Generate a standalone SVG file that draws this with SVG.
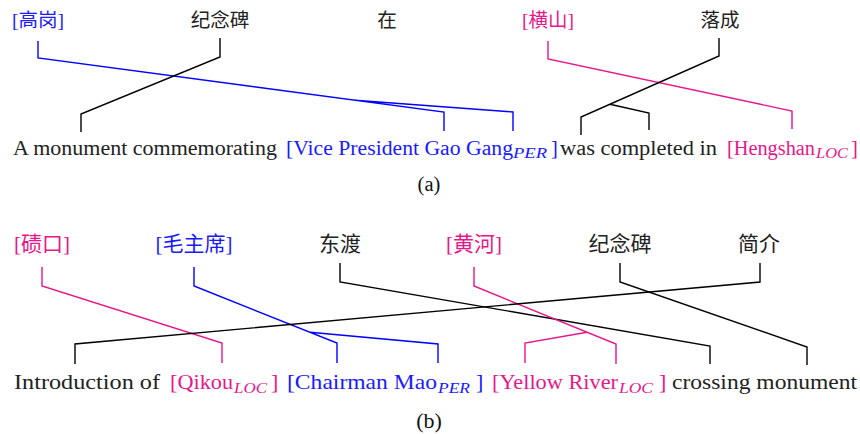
<svg xmlns="http://www.w3.org/2000/svg" width="860" height="434" viewBox="0 0 860 434">
<style>
.zh{text-anchor:middle;fill:#222}
.en{fill:#222}
.sub{font-style:italic}
.blue{fill:#1a1aff}
.pink{fill:#e8168a}
.cap{fill:#111;text-anchor:middle}
.k{fill:none;stroke:#000;stroke-width:1.4}
.b{fill:none;stroke:#0000ff;stroke-width:1.4}
.p{fill:none;stroke:#e8148a;stroke-width:1.4}
</style>
<rect width="860" height="434" fill="#fff"/>
<g id="panel-a-source" font-size="19.5" font-family="Noto Sans CJK SC, sans-serif">
<g id="a-gaogang"><text class="zh blue" x="38" y="27"><tspan font-family="Liberation Serif, serif">[</tspan>高岗<tspan font-family="Liberation Serif, serif">]</tspan></text></g>
<g id="a-jinianbei"><text class="zh" x="220" y="27">纪念碑</text></g>
<g id="a-zai"><text class="zh" x="387" y="27">在</text></g>
<g id="a-hengshan"><text class="zh pink" x="548" y="27"><tspan font-family="Liberation Serif, serif">[</tspan>横山<tspan font-family="Liberation Serif, serif">]</tspan></text></g>
<g id="a-luocheng"><text class="zh" x="720" y="27">落成</text></g>
</g>
<g id="panel-a-target" font-family="Liberation Serif, serif" font-size="20.5">
<text class="en" font-family="Liberation Serif, serif" x="13" y="155" textLength="264" lengthAdjust="spacingAndGlyphs">A monument commemorating</text>
<text class="en blue" font-family="Liberation Serif, serif" x="286" y="155" textLength="227" lengthAdjust="spacingAndGlyphs">[Vice President Gao Gang</text>
<text class="sub blue" font-family="Liberation Serif, serif" x="513" y="158" font-size="14" textLength="34" lengthAdjust="spacingAndGlyphs">PER</text>
<text class="en blue" font-family="Liberation Serif, serif" x="551" y="155">]</text>
<text class="en" font-family="Liberation Serif, serif" x="560" y="155" textLength="157" lengthAdjust="spacingAndGlyphs">was completed in</text>
<text class="en pink" font-family="Liberation Serif, serif" x="727" y="155" textLength="88" lengthAdjust="spacingAndGlyphs">[Hengshan</text>
<text class="sub pink" font-family="Liberation Serif, serif" x="816" y="158" font-size="14" textLength="32" lengthAdjust="spacingAndGlyphs">LOC</text>
<text class="en pink" font-family="Liberation Serif, serif" x="851" y="155">]</text>
<text class="cap" font-family="Liberation Serif, serif" x="429" y="191">(a)</text>
</g>
<g id="panel-b-source" font-size="21" font-family="Noto Sans CJK SC, sans-serif">
<g id="b-qikou"><text class="zh pink" x="42" y="251"><tspan font-family="Liberation Serif, serif">[</tspan>碛口<tspan font-family="Liberation Serif, serif">]</tspan></text></g>
<g id="b-maozhuxi"><text class="zh blue" x="194" y="251"><tspan font-family="Liberation Serif, serif">[</tspan>毛主席<tspan font-family="Liberation Serif, serif">]</tspan></text></g>
<g id="b-dongdu"><text class="zh" x="340" y="251">东渡</text></g>
<g id="b-huanghe"><text class="zh pink" x="474" y="251"><tspan font-family="Liberation Serif, serif">[</tspan>黄河<tspan font-family="Liberation Serif, serif">]</tspan></text></g>
<g id="b-jinianbei"><text class="zh" x="620" y="251">纪念碑</text></g>
<g id="b-jianjie"><text class="zh" x="759" y="251">简介</text></g>
</g>
<g id="panel-b-target" font-family="Liberation Serif, serif" font-size="22">
<text class="en" font-family="Liberation Serif, serif" x="14" y="389" textLength="146" lengthAdjust="spacingAndGlyphs">Introduction of</text>
<text class="en pink" font-family="Liberation Serif, serif" x="170" y="389" textLength="63" lengthAdjust="spacingAndGlyphs">[Qikou</text>
<text class="sub pink" font-family="Liberation Serif, serif" x="234" y="393" font-size="15" textLength="33" lengthAdjust="spacingAndGlyphs">LOC</text>
<text class="en pink" font-family="Liberation Serif, serif" x="271" y="389">]</text>
<text class="en blue" font-family="Liberation Serif, serif" x="287" y="389" textLength="150" lengthAdjust="spacingAndGlyphs">[Chairman Mao</text>
<text class="sub blue" font-family="Liberation Serif, serif" x="438" y="393" font-size="15" textLength="32" lengthAdjust="spacingAndGlyphs">PER</text>
<text class="en blue" font-family="Liberation Serif, serif" x="476" y="389">]</text>
<text class="en pink" font-family="Liberation Serif, serif" x="492" y="389" textLength="126" lengthAdjust="spacingAndGlyphs">[Yellow River</text>
<text class="sub pink" font-family="Liberation Serif, serif" x="619" y="393" font-size="15" textLength="34" lengthAdjust="spacingAndGlyphs">LOC</text>
<text class="en pink" font-family="Liberation Serif, serif" x="659" y="389">]</text>
<text class="en" font-family="Liberation Serif, serif" x="672" y="389" textLength="185" lengthAdjust="spacingAndGlyphs">crossing monument</text>
<text class="cap" font-family="Liberation Serif, serif" x="429" y="428">(b)</text>
</g>
<g id="connectors">
<path class="b" d="M38,41 V58 L444,112 V131 M355,100.2 L513,112 V131"/>
<path class="k" d="M220,38 V57 L81,114 V132"/>
<path class="p" d="M548,41 V59 L792,111 V129"/>
<path class="k" d="M719,38 V56 L581,117 V135 M610,104.2 L649,113 V130"/>
<path class="p" d="M42,267 V286 L222,343 V363"/>
<path class="b" d="M194,267 V286 L337,343 V363 M310,332.2 L438,344 V363"/>
<path class="k" d="M340,263 V282 L710,346 V364"/>
<path class="p" d="M474,267 V286 L616,344 V364 M587,332.2 L525,343 V363"/>
<path class="k" d="M620,263 V282 L807,347 V365"/>
<path class="k" d="M760,263 V282 L75,344 V364"/>
</g>
</svg>
